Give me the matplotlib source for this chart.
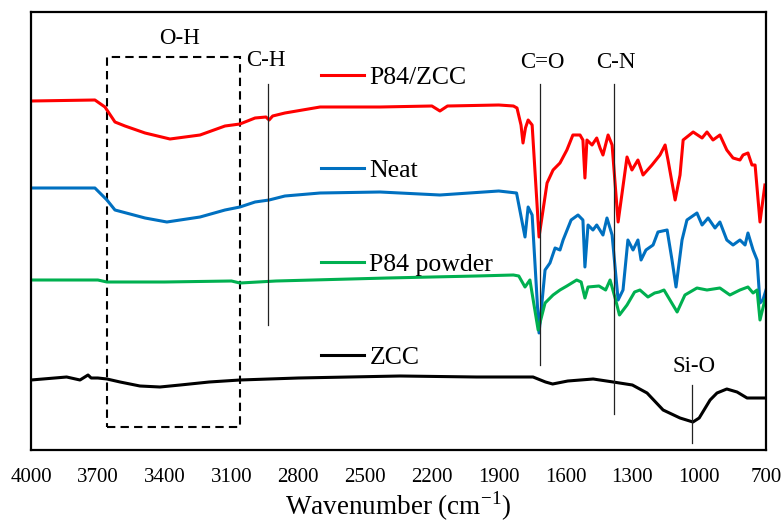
import numpy as np
import matplotlib
matplotlib.use("Agg")
import matplotlib.pyplot as plt
from matplotlib.patches import Rectangle

plt.rcParams["font.family"] = ["Liberation Serif", "DejaVu Serif"]
plt.rcParams["mathtext.fontset"] = "custom"
plt.rcParams["mathtext.rm"] = "Liberation Serif"

# wavenumber (cm-1) and offset transmittance (a.u.)
wn_p84zcc = [4000, 3713, 3668, 3623, 3578, 3488, 3376, 3241, 3129, 3062, 2994, 2945, 2931, 2915,
             2860, 2702, 2433, 2200, 2164, 2130, 1900, 1834, 1818, 1800, 1791, 1780, 1768, 1750,
             1719, 1683, 1656, 1625, 1594, 1567, 1535, 1522, 1513, 1504, 1481, 1460, 1445, 1432,
             1409, 1391, 1364, 1324, 1302, 1275, 1252, 1212, 1176, 1153, 1140, 1108, 1086, 1072,
             1027, 987, 965, 938, 907, 876, 848, 817, 803, 781, 763, 749, 727, 705]
t_p84zcc = [349, 350, 343, 328, 324, 317, 311, 315, 324, 326, 332, 333, 330, 334,
            337, 343, 343, 344, 339, 344, 345, 344, 342, 325, 307, 322, 330, 325,
            213, 267, 280, 287, 300, 315, 315, 310, 272, 310, 305, 312, 302, 295,
            315, 305, 228, 293, 280, 290, 275, 285, 295, 305, 290, 250, 275, 310,
            318, 312, 318, 310, 315, 300, 292, 290, 295, 297, 285, 285, 228, 265]

wn_neat = [4000, 3713, 3659, 3623, 3488, 3390, 3241, 3129, 3062, 2994, 2931, 2860, 2702, 2433,
           2164, 1900, 1820, 1782, 1768, 1750, 1719, 1692, 1670, 1647, 1625, 1611, 1575, 1544,
           1522, 1513, 1499, 1477, 1460, 1432, 1414, 1391, 1364, 1342, 1320, 1297, 1275, 1261,
           1239, 1207, 1185, 1144, 1122, 1104, 1077, 1055, 1010, 987, 960, 929, 907, 876,
           848, 817, 794, 781, 758, 740, 727, 714, 700]
t_neat = [262, 262, 250, 240, 232, 228, 233, 240, 243, 248, 250, 254, 257, 258,
          255, 259, 257, 213, 243, 235, 117, 180, 187, 202, 200, 210, 230, 235,
          230, 183, 225, 220, 225, 215, 232, 215, 150, 160, 210, 200, 210, 190,
          200, 205, 218, 220, 190, 163, 210, 230, 237, 225, 232, 222, 228, 210,
          205, 210, 205, 217, 200, 190, 147, 150, 160]

wn_powder = [4000, 3700, 3659, 3400, 3100, 3062, 2900, 2400, 2000, 1834, 1810, 1782, 1760, 1723,
             1692, 1656, 1625, 1594, 1550, 1530, 1513, 1499, 1450, 1420, 1400, 1375, 1358, 1324,
             1290, 1266, 1230, 1200, 1180, 1158, 1099, 1064, 1010, 965, 907, 862, 817, 781,
             758, 740, 727, 705]
t_powder = [170, 170, 168, 168, 169, 167, 169, 172, 174, 175, 174, 163, 170, 120,
            147, 155, 160, 164, 170, 168, 152, 163, 164, 160, 170, 150, 135, 145,
            158, 160, 153, 157, 158, 160, 138, 155, 162, 160, 162, 155, 160, 163,
            157, 160, 130, 150]

wn_zcc = [4000, 3840, 3780, 3744, 3730, 3700, 3659, 3600, 3511, 3421, 3330, 3200, 3062, 2800,
          2343, 2000, 1746, 1690, 1658, 1590, 1476, 1386, 1300, 1234, 1162, 1086, 1028, 1000,
          951, 920, 876, 830, 785, 700]
t_zcc = [70, 73, 70, 75, 72, 72, 71, 68, 64, 63, 65, 68, 70, 72,
         74, 73, 73, 68, 66, 69, 71, 68, 65, 57, 40, 32, 28, 32,
         50, 57, 61, 58, 52, 52]

labels = ["P84/ZCC", "Neat", "P84 powder", "ZCC"]
colors = ["#FF0000", "#0070C0", "#00B050", "#000000"]

# band markers: (label, wavenumber, line bottom, line top, text y)
bands = [("C-H", 2935, 125, 366, 390),
         ("C=O", 1715, 85, 366, 387),
         ("C-N", 1382, 36, 366, 387),
         ("Si-O", 1032, 7, 65, 83)]

fig = plt.figure(figsize=(7.81, 5.22), dpi=100)
ax = fig.add_axes([31 / 781, 72 / 522, 735 / 781, 438 / 522])

series = [(wn_p84zcc, t_p84zcc), (wn_neat, t_neat), (wn_powder, t_powder), (wn_zcc, t_zcc)]
for (wn, t), lab, c in zip(series, labels, colors):
    ax.plot(wn, t, color=c, lw=2.2, label=lab, solid_joinstyle="round")

for name, w, y0, y1, ty in bands:
    ax.plot([w, w], [y0, y1], color="#222222", lw=0.9)
    ax.text(w + 10 if name == "C-H" else w - 10, ty, name, fontsize=16.5,
            ha="center", va="center")

# O-H region box
ax.add_patch(Rectangle((3659, 23), 3062 - 3659, 393 - 23, fill=False, ec="black",
                       lw=1.5, ls=(0, (4, 2.5))))
ax.text(3331, 412, "O-H", fontsize=16.5, ha="center", va="center")

ax.set_xlim(4000, 700)
ax.set_ylim(0, 438)
ax.set_xticks(np.arange(4000, 699, -300))
ax.set_yticks([])
ax.tick_params(axis="x", length=0, pad=13, labelsize=15)
for s in ax.spines.values():
    s.set_linewidth(1.6)
ax.set_xlabel("Wavenumber (cm$^{-1}$)", fontsize=19.5, labelpad=2)

ax.legend(loc="upper left", bbox_to_anchor=(0.394, 0.877), frameon=False, fontsize=18.5,
          handlelength=1.7, handletextpad=0.2, labelspacing=2.74, borderpad=0, borderaxespad=0)

fig.savefig("out.png", dpi=100)
